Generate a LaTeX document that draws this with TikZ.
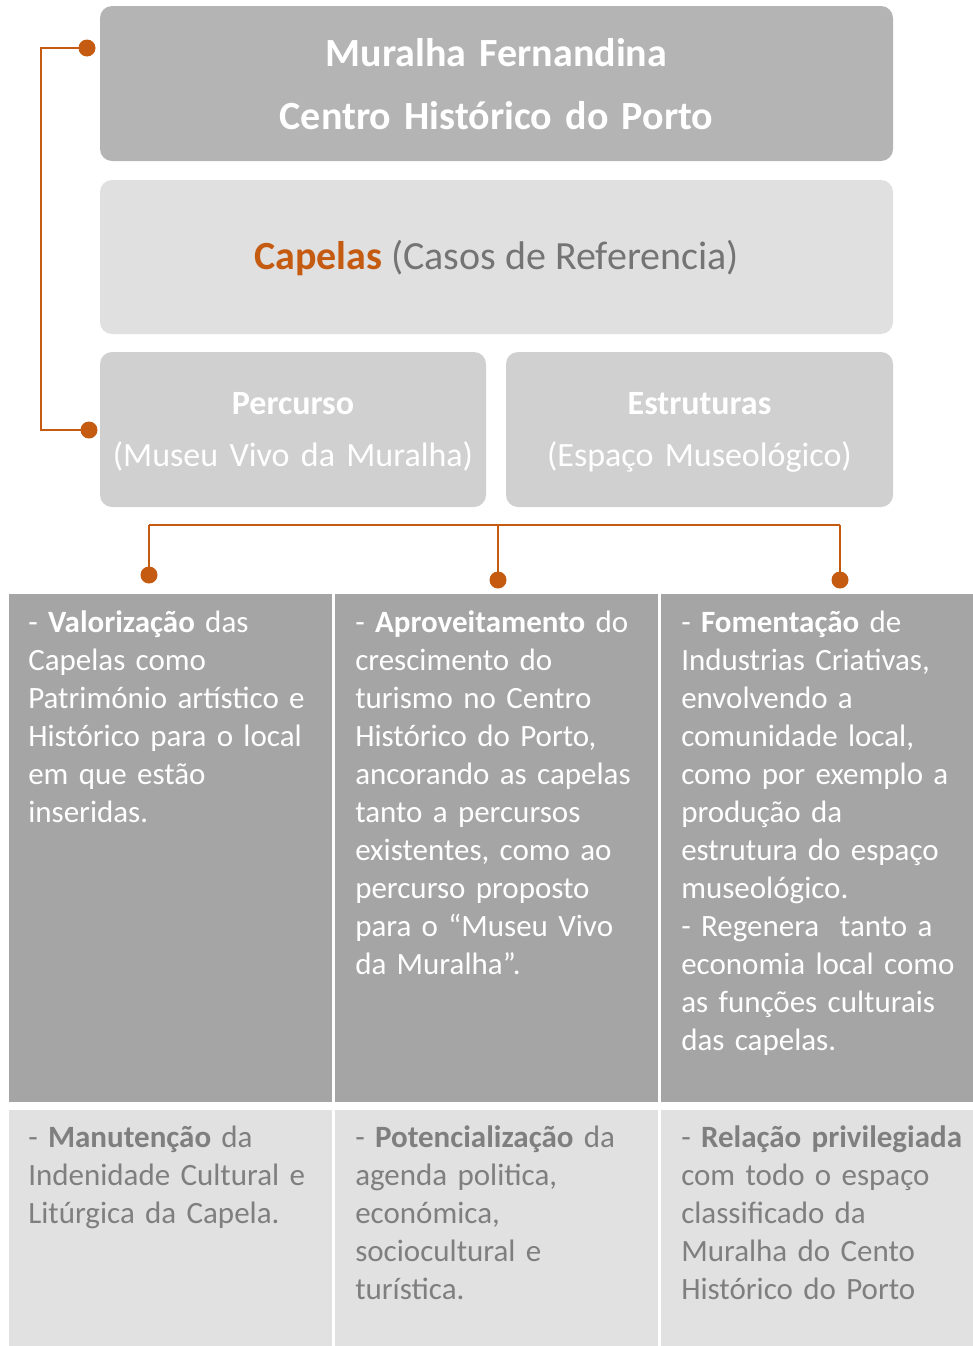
\documentclass[tikz,border=0pt]{standalone}
\usepackage{fontspec}
\setmainfont{Carlito}
\usetikzlibrary{fit}
\definecolor{orng}{HTML}{C55A11}
\definecolor{boxA}{HTML}{B4B4B4}
\definecolor{boxB}{HTML}{E0E0E0}
\definecolor{boxC}{HTML}{D0D0D0}
\definecolor{cellA}{HTML}{A5A5A5}
\definecolor{cellB}{HTML}{E1E1E1}
\definecolor{txtgray}{HTML}{7F7F7F}
\definecolor{capgray}{HTML}{747474}
\setlength\parindent{0pt}
\begin{document}
\begin{tikzpicture}[x=0.75pt,y=-0.75pt,
  panel/.style={rounded corners=9pt, inner sep=0pt, draw=none},
  cell/.style={inner sep=0pt, draw=none},
  titletxt/.style={inner sep=0pt, text width=560pt, align=center, text=white,
     font=\fontsize{30}{47.25}\selectfont\bfseries},
  subtxt/.style={inner sep=0pt, text width=280pt, align=center, text=white,
     font=\fontsize{25.5}{39}\selectfont},
  celltxt/.style={inner sep=0pt, text width=228pt, align=left, anchor=base west,
     font=\fontsize{23.25}{28.5}\selectfont},
  conn/.style={draw=orng, line width=1pt},
  dotn/.style={circle, fill=orng, inner sep=0pt, minimum size=12.75pt}
]
\useasboundingbox (0,0) rectangle (973,1346);
% panels
\node[panel, fill=boxA, fit={(100,6)(893,161)}] (top) {};
\node[panel, fill=boxB, fit={(100,180)(893,334)}] (cap) {};
\node[panel, fill=boxC, fit={(100,352)(486,507)}] (perc) {};
\node[panel, fill=boxC, fit={(506,352)(893,507)}] (estr) {};
\node[titletxt, anchor=base] (toptxt) at (496.5,66) {Muralha Fernandina\\Centro Histórico do Porto};
\node[inner sep=0pt, anchor=base, font=\fontsize{30}{36}\selectfont, text=capgray] (captxt) at (496.5,269)
  {{\color{orng}\bfseries Capelas} (Casos de Referencia)};
\node[subtxt, anchor=base] (perctxt) at (293,414) {\textbf{Percurso}\\(Museu Vivo da Muralha)};
\node[subtxt, anchor=base] (estrtxt) at (699.5,414) {\textbf{Estruturas}\\(Espaço Museológico)};
% table cells
\node[cell, fill=cellA, fit={(9,594)(332,1102)}] (c11) {};
\node[cell, fill=cellA, fit={(335,594)(658,1102)}] (c12) {};
\node[cell, fill=cellA, fit={(661,594)(973,1102)}] (c13) {};
\node[cell, fill=cellB, fit={(9,1110)(332,1346)}] (c21) {};
\node[cell, fill=cellB, fit={(335,1110)(658,1346)}] (c22) {};
\node[cell, fill=cellB, fit={(661,1110)(973,1346)}] (c23) {};
\node[celltxt, text=white] (t11) at (28,632) {- \textbf{Valorização} das\\Capelas como\\Património artístico e\\Histórico para o local\\em que estão\\inseridas.};
\node[celltxt, text=white] (t12) at (355,632) {- \textbf{Aproveitamento} do\\crescimento do\\turismo no Centro\\Histórico do Porto,\\ancorando as capelas\\tanto a percursos\\existentes, como ao\\percurso proposto\\para o “Museu Vivo\\da Muralha”.};
\node[celltxt, text=white] (t13) at (681,632) {- \textbf{Fomentação} de\\Industrias Criativas,\\envolvendo a\\comunidade local,\\como por exemplo a\\produção da\\estrutura do espaço\\museológico.\\- Regenera\ \ tanto a\\economia local como\\as funções culturais\\das capelas.};
\node[celltxt, text=txtgray] (t21) at (28,1147) {- \textbf{Manutenção} da\\Indenidade Cultural e\\Litúrgica da Capela.};
\node[celltxt, text=txtgray] (t22) at (355,1147) {- \textbf{Potencialização} da\\agenda politica,\\económica,\\sociocultural e\\turística.};
\node[celltxt, text=txtgray] (t23) at (681,1147) {- \textbf{Relação privilegiada}\\com todo o espaço\\classificado da\\Muralha do Cento\\Histórico do Porto};
% connectors
\coordinate (p1) at (87,48);
\coordinate (p2) at (89,430);
\coordinate (lk) at (41,48);
\draw[conn] (p1) -- (lk) |- (p2);
\coordinate (hL) at (149,525);
\coordinate (hM) at (498,525);
\coordinate (hR) at (840,525);
\coordinate (e1) at (149,575);
\coordinate (e2) at (498,580);
\coordinate (e3) at (840,580);
\draw[conn] (hL) -- (hR);
\draw[conn] (hL) -- (e1);
\draw[conn] (hM) -- (e2);
\draw[conn] (hR) -- (e3);
\node[dotn] (d1) at (p1) {};
\node[dotn] (d2) at (p2) {};
\node[dotn] (d3) at (e1) {};
\node[dotn] (d4) at (e2) {};
\node[dotn] (d5) at (e3) {};
\end{tikzpicture}
\end{document}
